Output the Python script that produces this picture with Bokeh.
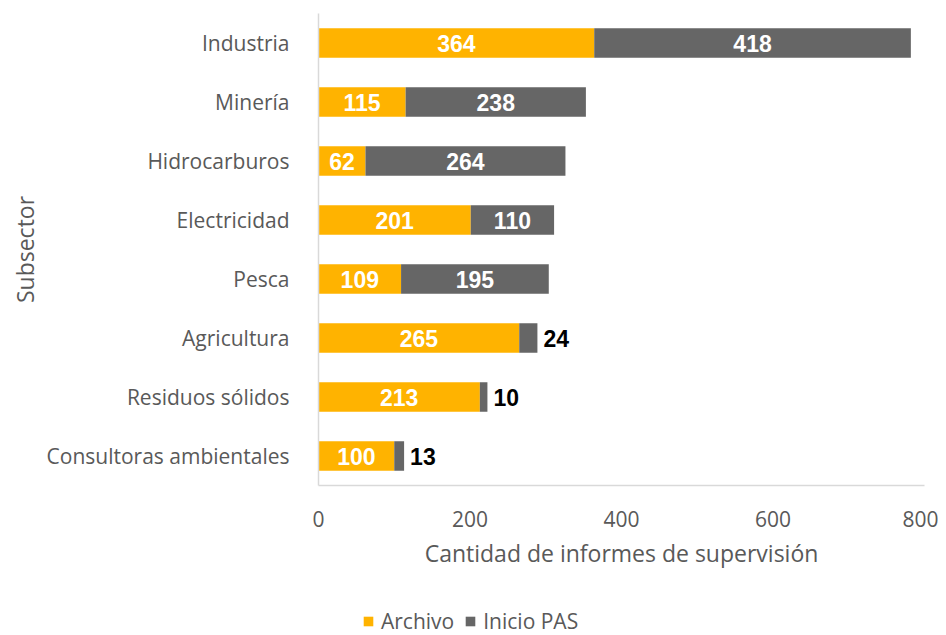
from bokeh.plotting import figure
from bokeh.models import ColumnDataSource, LabelSet, FixedTicker, Legend, Range1d
from bokeh.layouts import column
from bokeh.embed import file_html
from bokeh.resources import INLINE
from bokeh.core.properties import value

subsectors = ["Industria", "Minería", "Hidrocarburos", "Electricidad", "Pesca",
              "Agricultura", "Residuos sólidos", "Consultoras ambientales"]
archivo = [364, 115, 62, 201, 109, 265, 213, 100]
inicio_pas = [418, 238, 264, 110, 195, 24, 10, 13]
series = ["Archivo", "Inicio PAS"]
colors = ["#FFB300", "#666666"]
x_ticks = [0, 200, 400, 600, 800]

FONT = "Open Sans"
TXT = "#595959"

src = ColumnDataSource(dict(subsector=subsectors, Archivo=archivo, **{"Inicio PAS": inicio_pas}))

p = figure(y_range=list(reversed(subsectors)), x_range=(0, 800),
           width=938, height=585, output_backend="svg", toolbar_location=None,
           min_border_left=318, min_border_right=14, min_border_top=13, min_border_bottom=100)

r = p.hbar_stack(series, y="subsector", height=0.5, color=colors, source=src,
                 line_color=None)

# labels
in_y, in_x, in_t = [], [], []
out_y, out_x, out_t = [], [], []
for s, a, b in zip(subsectors, archivo, inicio_pas):
    in_y.append(s); in_x.append(a / 2); in_t.append(str(a))
    if b >= 50:
        in_y.append(s); in_x.append(a + b / 2); in_t.append(str(b))
    else:
        out_y.append(s); out_x.append(a + b); out_t.append(str(b))

lab_in = LabelSet(x="x", y="y", text="t",
                  source=ColumnDataSource(dict(x=in_x, y=in_y, t=in_t)),
                  text_align="center", text_baseline="middle", text_color="white",
                  text_font=value("Liberation Sans"), text_font_style="bold",
                  text_font_size="23px")
lab_out = LabelSet(x="x", y="y", text="t", x_offset=6,
                   source=ColumnDataSource(dict(x=out_x, y=out_y, t=out_t)),
                   text_align="left", text_baseline="middle", text_color="black",
                   text_font=value("Liberation Sans"), text_font_style="bold",
                   text_font_size="23px")
p.add_layout(lab_in)
p.add_layout(lab_out)

p.xgrid.grid_line_color = None
p.ygrid.grid_line_color = None
p.outline_line_color = None

for ax in (p.xaxis[0], p.yaxis[0]):
    ax.axis_line_color = "#d9d9d9"
    ax.axis_line_width = 1.5
    ax.major_tick_line_color = None
    ax.minor_tick_line_color = None
    ax.major_label_text_font = FONT
    ax.major_label_text_font_size = "21px"
    ax.major_label_text_color = TXT
    ax.axis_label_text_font = FONT
    ax.axis_label_text_font_size = "23px"
    ax.axis_label_text_font_style = "normal"
    ax.axis_label_text_color = TXT

p.xaxis.ticker = FixedTicker(ticks=x_ticks)
p.xaxis.axis_label = "Cantidad de informes de supervisión"
p.xaxis.major_label_standoff = 19
p.xaxis.axis_label_standoff = 7
p.yaxis.axis_label = "Subsector"
p.yaxis.major_label_standoff = 23
p.yaxis.axis_label_standoff = 3

# legend strip below the chart (same data; zero-height bars, ranges keep them out of view)
p2 = figure(width=938, height=50, x_range=Range1d(-2000, -1000), y_range=list(reversed(subsectors)),
            output_backend="svg", toolbar_location=None,
            min_border_left=0, min_border_right=0, min_border_top=0, min_border_bottom=0)
p2.axis.visible = False
p2.xgrid.grid_line_color = None
p2.ygrid.grid_line_color = None
p2.outline_line_color = None
r2 = p2.hbar_stack(series, y="subsector", height=0, color=colors, source=src,
                   line_color=None)

legend = Legend(items=[(s, [g]) for s, g in zip(series, r2)],
                orientation="horizontal", location=(44, 0),
                label_text_font=FONT, label_text_font_size="21px",
                label_text_color=TXT, glyph_width=12, glyph_height=12,
                label_height=18, padding=0, margin=0, spacing=10,
                background_fill_alpha=0, border_line_color=None, label_standoff=7)
p2.add_layout(legend, "center")

layout = column(p, p2, spacing=0)
open("out.html", "w").write(file_html(layout, INLINE))
